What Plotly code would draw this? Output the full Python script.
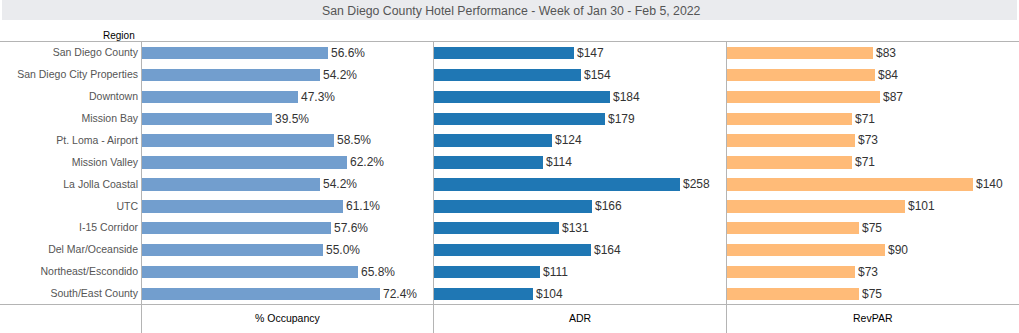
import plotly.graph_objects as go

# Weekly hotel metrics by San Diego County region
regions = [
    "San Diego County", "San Diego City Properties", "Downtown", "Mission Bay",
    "Pt. Loma - Airport", "Mission Valley", "La Jolla Coastal", "UTC",
    "I-15 Corridor", "Del Mar/Oceanside", "Northeast/Escondido", "South/East County",
]
occupancy = [56.6, 54.2, 47.3, 39.5, 58.5, 62.2, 54.2, 61.1, 57.6, 55.0, 65.8, 72.4]
adr = [147, 154, 184, 179, 124, 114, 258, 166, 131, 164, 111, 104]
revpar = [83, 84, 87, 71, 73, 71, 140, 101, 75, 90, 73, 75]
measures = ["% Occupancy", "ADR", "RevPAR"]
title_text = "San Diego County Hotel Performance - Week of Jan 30 - Feb 5, 2022"

W, H = 1019, 333
FONT = "Liberation Sans, Arial, sans-serif"


def fx(p):
    return p / W


def fy(p):
    return 1 - p / H


# pane layout in pixels
top, bottom = 41.5, 304.5
panes = [(142, 433), (434, 726), (727, 1019)]
ranges = [[0, 88.5], [0, 306], [0, 166]]
colors = ["#729ECE", "#1F77B4", "#FFBB78"]
texts = [
    [f"{v:.1f}%" for v in occupancy],
    [f"${v:d}" for v in adr],
    [f"${v:d}" for v in revpar],
]
series = [occupancy, adr, revpar]

fig = go.Figure()
for i, (vals, txt, col) in enumerate(zip(series, texts, colors)):
    sfx = "" if i == 0 else str(i + 1)
    fig.add_trace(go.Bar(
        x=vals, y=regions, orientation="h",
        xaxis="x" + sfx, yaxis="y" + sfx,
        marker=dict(color=col, line=dict(width=0)),
        width=0.56,
        text=txt, textposition="outside", cliponaxis=False,
        constraintext="none",
        textfont=dict(family=FONT, size=12, color="#333333"),
        hoverinfo="skip", showlegend=False,
    ))

layout = dict(
    width=W, height=H,
    margin=dict(l=0, r=0, t=0, b=0),
    paper_bgcolor="white", plot_bgcolor="white",
    font=dict(family=FONT),
    showlegend=False,
    bargap=0,
)
for i, ((x0, x1), rng) in enumerate(zip(panes, ranges)):
    sfx = "" if i == 0 else str(i + 1)
    layout["xaxis" + sfx] = dict(
        domain=[fx(x0), fx(x1)], range=rng, anchor="y" + sfx,
        visible=False, fixedrange=True,
    )
    ydict = dict(
        domain=[fy(bottom), fy(top)], anchor="x" + sfx,
        range=[11.5, -0.5], type="category",
        showgrid=False, zeroline=False, showline=False, ticks="",
        fixedrange=True,
    )
    if i == 0:
        ydict.update(showticklabels=True, ticklabelstandoff=3,
                     tickfont=dict(family=FONT, size=10.5, color="#555555"))
    else:
        ydict.update(showticklabels=False, matches="y")
    layout["yaxis" + sfx] = ydict

line_col = "#B4B4B4"
shapes = [
    # title band
    dict(type="rect", xref="paper", yref="paper",
         x0=fx(2), x1=fx(1017), y0=fy(20), y1=fy(0),
         fillcolor="#EAEBEE", line=dict(width=0), layer="below"),
    # header and footer rules
    dict(type="line", xref="paper", yref="paper", x0=0, x1=1, y0=fy(top), y1=fy(top),
         line=dict(color=line_col, width=1)),
    dict(type="line", xref="paper", yref="paper", x0=0, x1=1, y0=fy(bottom), y1=fy(bottom),
         line=dict(color=line_col, width=1)),
]
for xv in (141.5, 433.5, 726.5):
    shapes.append(dict(type="line", xref="paper", yref="paper",
                       x0=fx(xv), x1=fx(xv), y0=0, y1=fy(top),
                       line=dict(color=line_col, width=1)))
layout["shapes"] = shapes

annotations = [
    dict(text=title_text, xref="paper", yref="paper", x=fx(511), y=fy(11),
         xanchor="center", yanchor="middle", showarrow=False,
         font=dict(family=FONT, size=12.3, color="#555555")),
    dict(text="Region", xref="paper", yref="paper", x=fx(137), y=fy(35.5),
         xanchor="right", yanchor="middle", showarrow=False,
         font=dict(family=FONT, size=10, color="#000000")),
]
for (x0, x1), name in zip(panes, measures):
    annotations.append(dict(text=name, xref="paper", yref="paper",
                            x=fx((x0 + x1) / 2), y=fy(318),
                            xanchor="center", yanchor="middle", showarrow=False,
                            font=dict(family=FONT, size=10.5, color="#000000")))
layout["annotations"] = annotations

fig.update_layout(**layout)
fig.write_html("out.html")
